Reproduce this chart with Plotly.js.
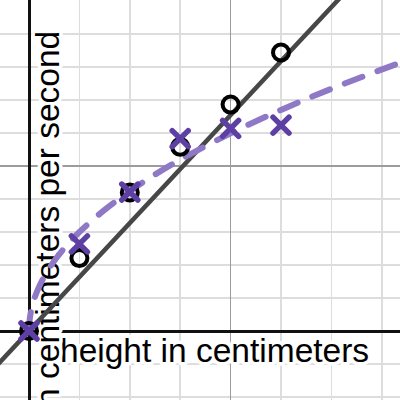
<!DOCTYPE html>
<html>
<head>
<meta charset="utf-8">
<script src="https://cdn.plot.ly/plotly-3.0.1.min.js"></script>
<style>html,body{margin:0;padding:0;background:#fff;}#chart{width:400px;height:400px;}</style>
</head>
<body>
<div id="chart"></div>
<script>
// Heights (cm) at which measurements were taken
const heights = [0, 5, 10, 15, 20, 25];
// Measured series shown as open circles
const circleSpeeds = [0, 22.1, 42.0, 55.8, 68.6, 84.4];
// Measured series shown as crosses
const crossSpeeds = [0, 26.4, 42.1, 58.3, 61.4, 62.4];
// Straight fitted line (read endpoints)
const lineX = [-3, 35];
const lineY = [-9.8, 114.5];
// Dashed fitted curve
const curveX = [0, 0.05, 0.2, 0.5, 1, 2, 3.5, 5, 7.5, 10, 12.5, 15, 20, 25, 30, 37];
const curveY = [0, 3.0, 6.0, 9.5, 13.4, 19.0, 25.1, 30.0, 36.7, 42.4, 47.4, 51.9, 59.9, 67.0, 73.4, 81.5];
// Axis labels
const xLabel = 'height in centimeters';
const yLabel = 'speed in centimeters per second';

const traces = [
  {x: lineX, y: lineY, mode: 'lines', line: {color: '#474747', width: 4.5}, hoverinfo: 'skip'},
  {x: curveX, y: curveY, mode: 'lines', line: {color: '#8f79c6', width: 6, dash: '19px,16px', shape: 'spline'}, hoverinfo: 'skip'},
  {x: heights, y: circleSpeeds, mode: 'markers', marker: {symbol: 'circle-open', size: 16, color: '#000', line: {width: 4, color: '#000'}}},
  {x: heights, y: crossSpeeds, mode: 'markers', marker: {symbol: 'x-thin-open', size: 16, color: '#5e40a5', line: {width: 5.5, color: '#5e40a5'}}}
];

const font = {family: '"Liberation Sans", Arial, sans-serif', size: 33.5, color: '#000'};

const layout = {
  width: 400, height: 400,
  margin: {l: 0, r: 0, t: 0, b: 0, pad: 0},
  paper_bgcolor: '#fff', plot_bgcolor: '#fff',
  showlegend: false,
  xaxis: {
    range: [-2.877, 36.806], tick0: 0, dtick: 20,
    showgrid: true, gridcolor: '#9c9c9c', gridwidth: 1.6,
    zeroline: true, zerolinecolor: '#111', zerolinewidth: 3,
    showticklabels: false, ticks: '', showline: false, fixedrange: true,
    minor: {tick0: 0, dtick: 5, showgrid: true, gridcolor: '#dddddd', gridwidth: 1.6, ticks: ''}
  },
  yaxis: {
    range: [-20.91, 100.3], tick0: 0, dtick: 50,
    showgrid: true, gridcolor: '#9c9c9c', gridwidth: 1.6,
    zeroline: true, zerolinecolor: '#111', zerolinewidth: 3,
    showticklabels: false, ticks: '', showline: false, fixedrange: true,
    minor: {tick0: 0, dtick: 10, showgrid: true, gridcolor: '#dddddd', gridwidth: 1.6, ticks: ''}
  },
  annotations: [
    {text: xLabel, xref: 'paper', yref: 'paper', x: 0.145, y: 0.17575, xanchor: 'left', yanchor: 'top', showarrow: false, font: font},
    {text: yLabel, xref: 'paper', yref: 'paper', x: 0.06925, y: 0.9282, xanchor: 'left', yanchor: 'top', textangle: -90, showarrow: false, font: font}
  ]
};

Plotly.newPlot('chart', traces, layout, {staticPlot: true, displayModeBar: false}).then(function (gd) {
  // Put the labels under the data (like the original) and give them a white halo
  const target = gd.querySelector('g.layer-between');
  gd.querySelectorAll('g.annotation').forEach(function (a) {
    if (target) target.appendChild(a);
    a.querySelectorAll('text').forEach(function (t) {
      t.style.paintOrder = 'stroke';
      t.style.stroke = '#fff';
      t.style.strokeWidth = '7px';
      t.style.strokeLinejoin = 'round';
    });
  });
  gd.querySelectorAll('g.scatterlayer path.js-line').forEach(function (p) {
    p.style.strokeLinecap = 'round';
  });
  gd.querySelectorAll('g.scatterlayer path.point').forEach(function (p) {
    p.style.strokeLinecap = 'round';
  });
});
</script>
</body>
</html>
